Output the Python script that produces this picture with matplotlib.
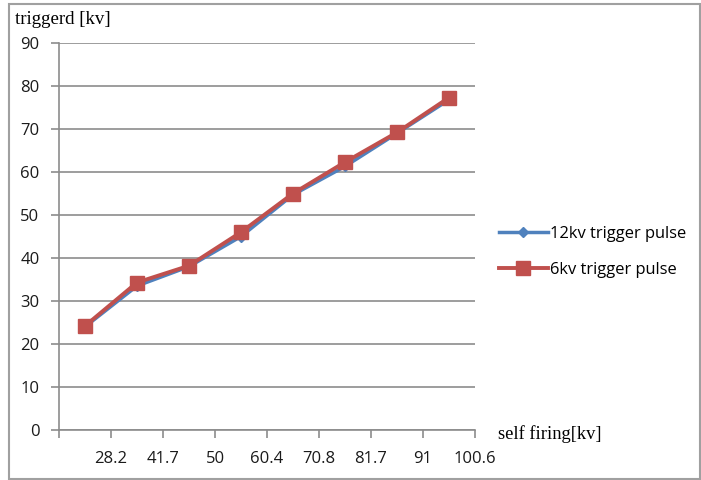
import numpy as np
import matplotlib
matplotlib.use("Agg")
from matplotlib import pyplot as plt
from matplotlib.patches import Rectangle

# data
x_labels = ["28.2", "41.7", "50", "60.4", "70.8", "81.7", "91", "100.6"]
pulse_12kv = [24.0, 33.5, 38.0, 45.0, 54.7, 61.3, 69.0, 76.8]
pulse_6kv = [24.2, 34.3, 38.2, 46.0, 55.0, 62.3, 69.2, 77.3]

blue = "#4F81BD"
red = "#C0504D"
grid_c = "#8c8c8c"

fig = plt.figure(figsize=(7.01, 4.80), dpi=100)
fig.patches.append(Rectangle((9 / 701, 1 / 480), 691 / 701, 475 / 480,
                             transform=fig.transFigure, fill=False,
                             edgecolor="#a0a0a0", linewidth=1.5))

ax = fig.add_axes([59 / 701, 1 - 430 / 480, 416 / 701, 387 / 480])

n = len(x_labels)
xs = np.arange(n) + 0.5
ax.plot(xs, pulse_12kv, color=blue, lw=2.5, marker="D", ms=5,
        label="12kv trigger pulse", zorder=3)
ax.plot(xs, pulse_6kv, color=red, lw=2.8, marker="s", ms=10,
        label="6kv trigger pulse", zorder=4)

ax.set_xlim(0, n)
ax.set_ylim(0, 90)
ax.set_yticks(np.arange(0, 91, 10))
ax.set_xticks(np.arange(1, n + 1))
ax.set_xticks(np.arange(0, n + 1), minor=True)
ax.set_xticklabels(x_labels)

for lab in ax.get_xticklabels() + ax.get_yticklabels():
    lab.set_fontfamily("Open Sans")
    lab.set_fontsize(12)
    lab.set_color("#1a1a1a")

ax.grid(axis="y", color=grid_c, lw=1.2)
ax.set_axisbelow(True)
for s in ["top", "right"]:
    ax.spines[s].set_visible(False)
for s in ["left", "bottom"]:
    ax.spines[s].set_color(grid_c)
    ax.spines[s].set_linewidth(1.2)
ax.tick_params(axis="y", length=6, color=grid_c, width=1.2, pad=8)
ax.tick_params(axis="x", which="both", length=6, color=grid_c, width=1.2, pad=9)

fig.text(15 / 701, 1 - 20 / 480, "triggerd [kv]", family="Liberation Serif",
         size=13.6, va="center", ha="left")
fig.text(498 / 701, 1 - 434 / 480, "self firing[kv]", family="Liberation Serif",
         size=13.3, va="center", ha="left")

leg = fig.legend(loc="center left", bbox_to_anchor=(492 / 701, 1 - 252 / 480),
                 frameon=False, prop={"family": "Open Sans", "size": 11.9},
                 handlelength=3.0, handletextpad=0.1, labelspacing=1.2,
                 borderaxespad=0)

fig.savefig("out.png", dpi=100)
